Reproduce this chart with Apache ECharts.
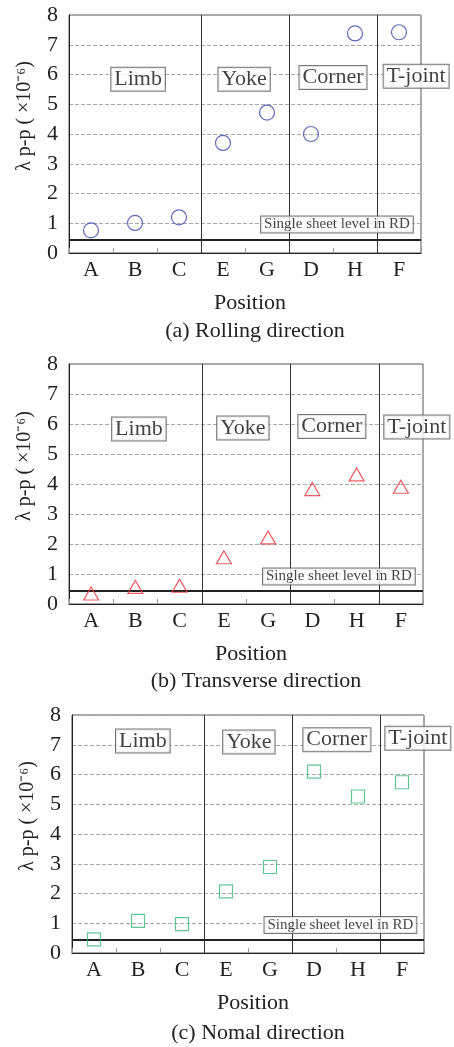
<!DOCTYPE html>
<html><head><meta charset="utf-8">
<script src="https://cdn.jsdelivr.net/npm/echarts@6/dist/echarts.min.js"></script>
<style>html,body{margin:0;padding:0;background:#fff}#c{width:454px;height:1047px}</style>
</head><body><div id="c"></div>
<script>
const categories = ['A','B','C','E','G','D','H','F'];
const yTicks = [0,1,2,3,4,5,6,7,8];
const rollingValues = [0.76, 1.01, 1.2, 3.7, 4.72, 4.0, 7.38, 7.42];
const transverseValues = [0.35, 0.57, 0.61, 1.56, 2.22, 3.83, 4.32, 3.91];
const normalValues = [0.46, 1.08, 0.97, 2.07, 2.89, 6.1, 5.26, 5.74];
const singleSheetLevel = [0.45, 0.43, 0.44];
const regionNames = ['Limb','Yoke','Corner','T-joint'];
const regionBoundaries = [3, 5, 7];
const refLabel = 'Single sheet level in RD';
const captions = ['(a) Rolling direction','(b) Transverse direction','(c) Nomal direction'];
// label anchor points in data coordinates [x on 0..8 position scale, y value]
const regionLabelAnchors = [
  [[1.57,5.84],[3.98,5.84],[6.0,5.9],[7.89,5.94]],
  [[1.58,5.83],[3.93,5.87],[5.94,5.92],[7.86,5.9]],
  [[1.61,7.13],[4.02,7.09],[6.02,7.17],[7.86,7.22]]
];
const refLabelAnchors = [[6.09,0.96],[6.1,0.92],[6.1,0.94]];

const FONT = 'Liberation Serif';
const grids = [
  {left:69, top:15, width:352, height:238},
  {left:69, top:364, width:354, height:240},
  {left:72, top:715, width:352, height:238}
];
const captionOffsets = [62, 61, 64];
const seriesValues = [rollingValues, transverseValues, normalValues];
const markers = [
  {symbol:'circle', size:15, color:'#3b43b0'},
  {symbol:'triangle', size:[15,13], color:'#e8343c'},
  {symbol:'rect', size:13, color:'#3cb67a'}
];

const option = {
  animation:false,
  backgroundColor:'#fff',
  textStyle:{fontFamily:FONT},
  grid: grids.map(g => Object.assign({show:true, borderColor:'#555', borderWidth:1, backgroundColor:'transparent'}, g)),
  xAxis: [], yAxis: [], series: [],
  title: [],
};
grids.forEach((g, i) => {
  option.xAxis.push({
    type:'category', gridIndex:i, data:categories, boundaryGap:true,
    axisLine:{lineStyle:{color:'#222', width:1}},
    axisTick:{show:true, inside:true, length:5, lineStyle:{color:'#999'}},
    axisLabel:{fontFamily:FONT, fontSize:22, color:'#222', margin:6},
    name:'Position', nameLocation:'middle', nameGap:39,
    nameTextStyle:{fontFamily:FONT, fontSize:22, color:'#222', padding:[0,0,0,10]}
  });
  option.xAxis.push({
    type:'value', gridIndex:i, min:0, max:8, show:false
  });
  option.yAxis.push({
    type:'value', gridIndex:i, min:0, max:8, interval:1,
    axisLine:{show:true, lineStyle:{color:'#222'}},
    axisTick:{show:false},
    axisLabel:{fontFamily:FONT, fontSize:22, color:'#222', margin:11},
    splitLine:{show:true, lineStyle:{color:'#aaa', type:'dashed', width:1}},
    name:'λ p-p ( ×10⁻⁶)', nameLocation:'middle', nameGap:34,
    nameTextStyle:{fontFamily:FONT, fontSize:20, color:'#222', padding:[0,0,0,36]}
  });
  const labelData = regionNames.map((n, k) => ({
    name:n, value:regionLabelAnchors[i][k],
    label:{show:true, position:'inside', formatter:'{b}', fontFamily:FONT, fontSize:22, color:'#111',
      backgroundColor:'#fff', borderColor:'#555', borderWidth:1, padding:[1,3,0,3]}
  }));
  labelData.push({
    name:refLabel, value:refLabelAnchors[i],
    label:{show:true, position:'inside', formatter:'{b}', fontFamily:FONT, fontSize:15, color:'#111',
      backgroundColor:'#fff', borderColor:'#555', borderWidth:1, padding:[1,3,0,3]}
  });
  option.series.push({
    type:'scatter', xAxisIndex:2*i+1, yAxisIndex:i, symbolSize:0, silent:true, z:5,
    data:labelData,
    markLine:{
      silent:true, symbol:'none', label:{show:false}, z:3,
      data: regionBoundaries.map(b => ({xAxis:b, lineStyle:{color:'#333', width:1, type:'solid'}}))
        .concat([{yAxis:singleSheetLevel[i], lineStyle:{color:'#222', width:2, type:'solid'}}])
    }
  });
  option.series.push({
    type:'scatter', xAxisIndex:2*i, yAxisIndex:i, z:6,
    symbol:markers[i].symbol, symbolSize:markers[i].size,
    itemStyle:{color:'rgba(255,255,255,0)', borderColor:markers[i].color, borderWidth:1.2},
    data:seriesValues[i]
  });
  option.title.push({
    text:captions[i], left:g.left + g.width/2 + 5, textAlign:'center', top:g.top + g.height + captionOffsets[i],
    textStyle:{fontFamily:FONT, fontSize:22, fontWeight:'normal', color:'#222'}
  });
});
const chart = echarts.init(document.getElementById('c'), null, {renderer:'canvas'});
chart.setOption(option);
</script></body></html>
